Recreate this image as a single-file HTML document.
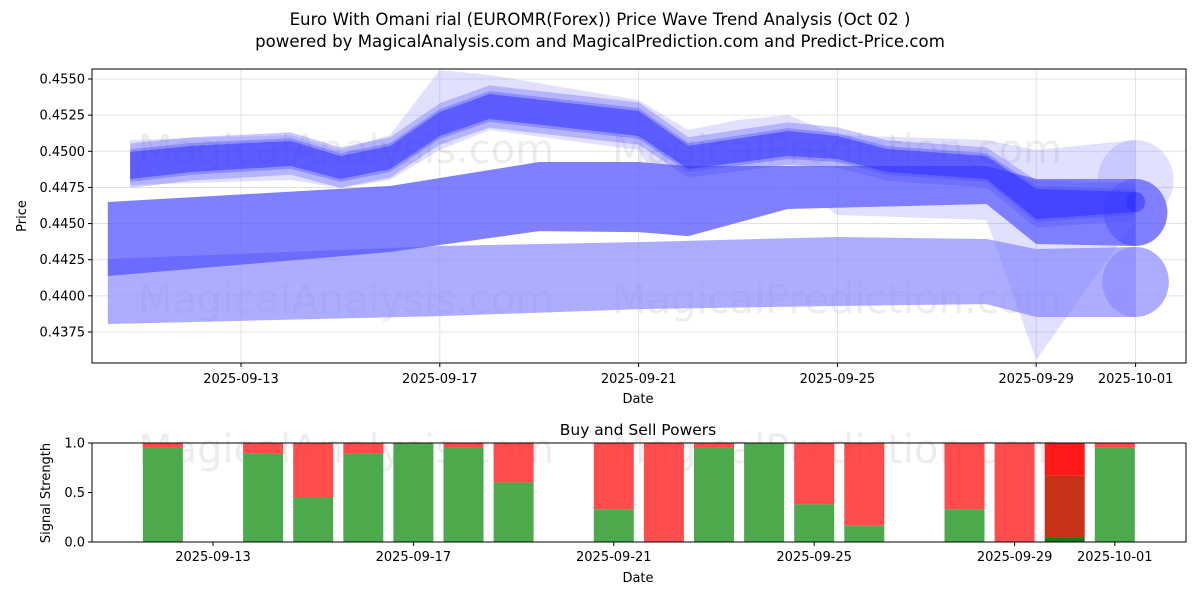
<!DOCTYPE html>
<html><head><meta charset="utf-8"><style>
body{margin:0;background:#fff;font-family:"Liberation Sans","DejaVu Sans",sans-serif}
svg text{font-family:"DejaVu Sans","Liberation Sans",sans-serif}
</style></head><body>
<svg id="c" width="1200" height="600" xmlns="http://www.w3.org/2000/svg">
<text x="600" y="25" font-size="16.6" text-anchor="middle">Euro With Omani rial (EUROMR(Forex)) Price Wave Trend Analysis (Oct 02 )</text>
<text x="600" y="47" font-size="16.6" text-anchor="middle">powered by MagicalAnalysis.com and MagicalPrediction.com and Predict-Price.com</text>
<g id="topPanel"></g>
<g id="botPanel"></g>
</svg>
<script>
// ---- price chart data (days since 2025-09-10) ----
const lowDays=[0.32,7,11,15,18,19,21];
const lowTop=[0.44255,0.44345,0.44372,0.44407,0.44393,0.44324,0.44338];
const lowBot=[0.43805,0.43860,0.43908,0.43930,0.43943,0.43854,0.43854];
const midDays=[0.32,6,9,11,12,14,18,19,21];
const midTop=[0.44649,0.44760,0.44926,0.44926,0.44898,0.44898,0.44898,0.44808,0.44808];
const midBot=[0.44137,0.44303,0.44448,0.44441,0.44413,0.44601,0.44635,0.44359,0.44345];
const upDays=[0.77,2,4,5,6,7,8,11,12,14,15,16,18,19,21];
const upTop=[0.44995,0.45037,0.45071,0.44967,0.45037,0.45272,0.45396,0.45279,0.45037,0.45140,0.45106,0.45016,0.44967,0.44739,0.44718];
const upBot=[0.44808,0.44857,0.44898,0.44808,0.44877,0.45106,0.45223,0.45106,0.44877,0.44967,0.44947,0.44857,0.44808,0.44531,0.44580];
const haloDays=[0.77,4,5,6,7,8,11,12,13,14,15,18,19,21];
const haloTop=[0.45078,0.45113,0.45009,0.45113,0.45562,0.45528,0.45355,0.45147,0.45216,0.45251,0.45113,0.45078,0.45009,0.45078];
const haloBot=[0.44767,0.44801,0.44746,0.44801,0.45009,0.45147,0.45009,0.44421,0.44663,0.44801,0.44559,0.44525,0.43556,0.44525];
const yTicks=[0.4375,0.4400,0.4425,0.4450,0.4475,0.4500,0.4525,0.4550];
const xTickDays=[3,7,11,15,19,21];
const xTickLabels=['2025-09-13','2025-09-17','2025-09-21','2025-09-25','2025-09-29','2025-10-01'];
// ---- buy/sell powers ----
const barDays=[2,4,5,6,7,8,9,11,12,13,14,15,16,18,19,20,21];
const buyVals=[0.95,0.89,0.45,0.89,1.0,0.95,0.6,0.33,0,0.95,1.0,0.38,0.17,0.33,0,0.05,0.95];
const midVals=[0,0,0,0,0,0,0,0,0,0,0,0,0,0,0,0.62,0];

const NS='http://www.w3.org/2000/svg';
function mk(p,t,a){const e=document.createElementNS(NS,t);for(const k in a)e.setAttribute(k,a[k]);p.appendChild(e);return e;}
const L=92,R=1186,T=69,B=363;
const X=d=>241+(d-3)*49.7;
const Y=p=>79+(0.4550-p)/0.0025*36.14;
const pg=document.getElementById('topPanel');
mk(pg,'rect',{x:L,y:T,width:R-L,height:B-T,fill:'#fff'});
yTicks.forEach(v=>{const g=mk(pg,'line',{x1:L,x2:R,y1:Y(v),y2:Y(v),stroke:'#ddd','stroke-width':0.8});

mk(pg,'line',{x1:L-4,x2:L,y1:Y(v),y2:Y(v),stroke:'#000'});
const t=mk(pg,'text',{x:L-7,y:Y(v)+4.5,'font-size':13,'text-anchor':'end'});t.textContent=v.toFixed(4);
});
xTickDays.forEach((d,i)=>{mk(pg,'line',{x1:X(d),x2:X(d),y1:T,y2:B,stroke:'#ddd','stroke-width':0.8});
mk(pg,'line',{x1:X(d),x2:X(d),y1:B,y2:B+4,stroke:'#000'});
const t=mk(pg,'text',{x:X(d),y:B+20,'font-size':13,'text-anchor':'middle'});t.textContent=xTickLabels[i];
});
function wm(g,y,s){[['MagicalAnalysis.com',346],['MagicalPrediction.com',837]].forEach(w=>{const t=mk(g,'text',{x:w[1],y:y,'font-size':s,'text-anchor':'middle',fill:'#000','fill-opacity':0.07});t.textContent=w[0];});}
wm(pg,163,40);wm(pg,313,40);
function band(days,tp,bt,fill,op,name,cap){
 let pts=days.map((d,i)=>X(d)+','+Y(tp[i]));
 for(let i=days.length-1;i>=0;i--)pts.push(X(days[i])+','+Y(bt[i]));
 const p=mk(pg,'polygon',{points:pts.join(' '),fill:fill,'fill-opacity':op});
 
 if(cap){const n=days.length-1;const yt=Y(tp[n]),yb=Y(bt[n]);
  const c=mk(pg,'ellipse',{cx:X(days[n]),cy:(yt+yb)/2,rx:(yb-yt)/2*0.95,ry:(yb-yt)/2,fill:fill,'fill-opacity':op});
  }
}
band(lowDays,lowTop,lowBot,'#8a8aff',0.7,'lower-band',true);
band(midDays,midTop,midBot,'#5555ff',0.75,'middle-band',true);
band(haloDays,haloTop,haloBot,'#7777ff',0.22,'upper-halo',true);
band(upDays,upTop.map(v=>v+0.0006),upBot.map(v=>v-0.0006),'#5050ff',0.3,'upper-band-outer',false);
band(upDays,upTop.map(v=>v+0.0002),upBot.map(v=>v-0.0002),'#4444ff',0.35,'upper-band-mid',false);
band(upDays,upTop,upBot,'#2a2aff',0.5,'upper-band',true);
mk(pg,'rect',{x:L,y:T,width:R-L,height:B-T,fill:'none',stroke:'#000','stroke-width':1});
let tt=mk(pg,'text',{x:638,y:403,'font-size':13,'text-anchor':'middle'});tt.textContent='Date';

tt=mk(pg,'text',{x:0,y:0,'font-size':13,'text-anchor':'middle',transform:'translate(26,216) rotate(-90)'});tt.textContent='Price';


// bottom
const bg=document.getElementById('botPanel');
const BT=443,BB=542;
const BX=d=>213+(d-3)*50.1;
const BY=v=>BB-v*(BB-BT);
[0,0.5,1].forEach(v=>{mk(bg,'line',{x1:L-4,x2:L,y1:BY(v),y2:BY(v),stroke:'#000'});
const t=mk(bg,'text',{x:L-7,y:BY(v)+4.5,'font-size':13,'text-anchor':'end'});t.textContent=v.toFixed(1);
});
xTickDays.forEach((d,i)=>{mk(bg,'line',{x1:BX(d),x2:BX(d),y1:BB,y2:BB+4,stroke:'#000'});
const t=mk(bg,'text',{x:BX(d),y:BB+19,'font-size':13,'text-anchor':'middle'});t.textContent=xTickLabels[i];
});
wm(bg,463,40);
barDays.forEach((d,i)=>{const x=BX(d)-20,g=buyVals[i],m=midVals[i];
 const r=mk(bg,'rect',{x:x,y:BY(1),width:40,height:BY(g+m)-BY(1),fill:m>0?'#ff0000':'#ff3333','fill-opacity':m>0?0.9:0.88});
 
 if(m>0){const q=mk(bg,'rect',{x:x,y:BY(g+m),width:40,height:BY(g)-BY(g+m),fill:'#c83218'});
  }
 const b=mk(bg,'rect',{x:x,y:BY(g),width:40,height:BY(0)-BY(g),fill:m>0?'#1a7a1a':'#4caa4c'});
 });
mk(bg,'rect',{x:L,y:BT,width:R-L,height:BB-BT,fill:'none',stroke:'#000'});
tt=mk(bg,'text',{x:638,y:435,'font-size':15.5,'text-anchor':'middle'});tt.textContent='Buy and Sell Powers';

tt=mk(bg,'text',{x:638,y:582,'font-size':13,'text-anchor':'middle'});tt.textContent='Date';

tt=mk(bg,'text',{x:0,y:0,'font-size':13,'text-anchor':'middle',transform:'translate(50,493) rotate(-90)'});tt.textContent='Signal Strength';

</script>
</body></html>
